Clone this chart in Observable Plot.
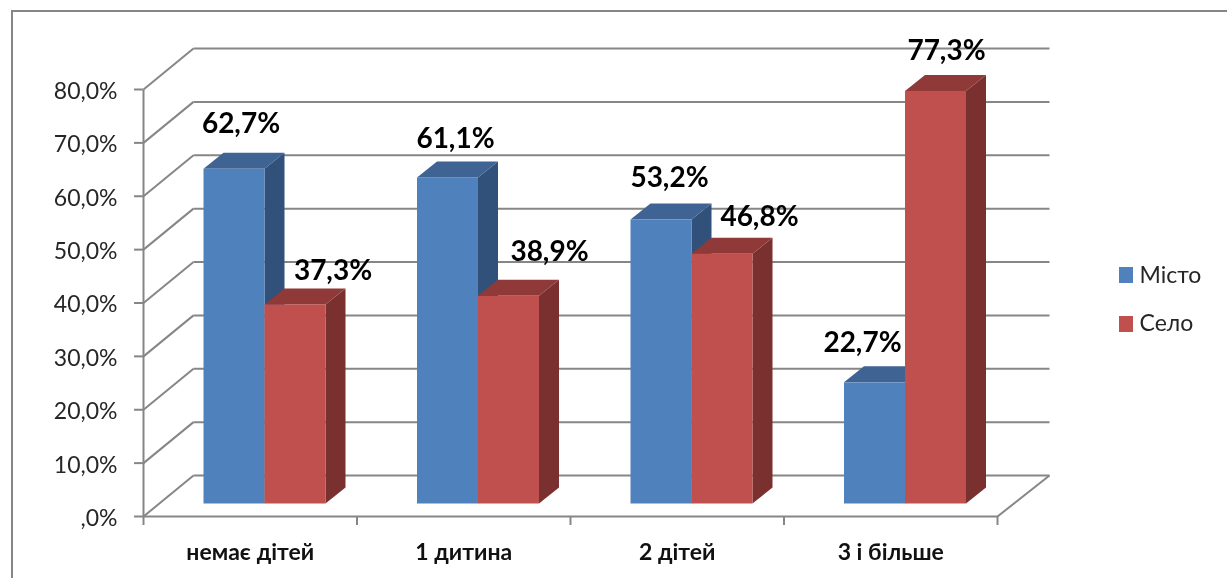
<!DOCTYPE html>
<html lang="uk">
<head>
<meta charset="utf-8">
<script src="https://cdn.jsdelivr.net/npm/d3@7"></script>
<script src="https://cdn.jsdelivr.net/npm/@observablehq/plot@0.6"></script>
<style>
  html,body{margin:0;padding:0;background:#fff;}
  #wrap{position:relative;width:1227px;height:578px;overflow:hidden;}
  #wrap svg{display:block;filter:blur(.45px);}
  #edge{position:absolute;left:11px;top:10px;width:1300px;height:700px;border:2px solid #868686;box-sizing:border-box;filter:blur(.4px);pointer-events:none;}
</style>
</head>
<body>
<div id="wrap"><div id="edge"></div></div>
<script>
// Data
const categories = ["немає дітей", "1 дитина", "2 дітей", "3 і більше"];
const seriesNames = ["Місто", "Село"];
const misto = [62.7, 61.1, 53.2, 22.7];
const selo = [37.3, 38.9, 46.8, 77.3];
const yTicks = [0, 10, 20, 30, 40, 50, 60, 70, 80];

// Colours
const frontColors = ["#4f81bd", "#c0504d"];
const sideColors = ["#31507a", "#7a302e"];
const topColors = ["#3f6392", "#8f3a38"];
const gridColor = "#868686";

// Layout, in pixels, converted to scale units below
const plotLeft = 143, plotRight = 997, plotTop = 89, plotBottom = 516;
const ux = 4 / (plotRight - plotLeft);
const uy = 80 / (plotBottom - plotTop);
const wallDx = 50 * ux, wallDy = 41 * uy, wallEnd = 4 + 52 * ux;
const barStart = 60.5 * ux, barW = 61 * ux, barBase = 12.5 * uy;
const barDx = 20 * ux, barDy = 16 * uy;
const labelNudgeX = [[6.5, 7.5, 8, -12.5], [37.5, 40.5, 37, 10.5]];
const labelNudgeY = [[45, 39, 42, 40], [34, 44, 37, 40]];

const fmt = v => v.toFixed(1).replace(".", ",") + "%";
const tickFmt = v => v === 0 ? ",0%" : fmt(v);

const bars = [misto, selo].map((vals, s) => vals.map((v, i) => {
  const x0 = i + barStart + s * barW;
  return {s, i, v, x0, x1: x0 + barW, y0: barBase, y1: barBase + v};
}));
const side = bars.map(list => list.flatMap(b => [
  {k: b.i, x: b.x1, y1: b.y0, y2: b.y1},
  {k: b.i, x: b.x1 + barDx, y1: b.y0 + barDy, y2: b.y1 + barDy}
]));
const topFace = bars.map(list => list.flatMap(b => [
  {k: b.i, x: b.x0, y1: b.y1, y2: b.y1},
  {k: b.i, x: b.x0 + barDx, y1: b.y1, y2: b.y1 + barDy},
  {k: b.i, x: b.x1, y1: b.y1, y2: b.y1 + barDy},
  {k: b.i, x: b.x1 + barDx, y1: b.y1 + barDy, y2: b.y1 + barDy}
]));

const barMarks = [0, 1].flatMap(s => [
  Plot.areaY(side[s], {x: "x", y1: "y1", y2: "y2", z: "k", fill: sideColors[s], curve: "linear"}),
  Plot.areaY(topFace[s], {x: "x", y1: "y1", y2: "y2", z: "k", fill: topColors[s], curve: "linear"}),
  Plot.rect(bars[s], {x1: "x0", x2: "x1", y1: "y0", y2: "y1", fill: () => seriesNames[s], inset: 0})
]);

const labels = bars.flat();
const fontFamily = "Lato, 'Open Sans', sans-serif";
const px = p => (p - plotLeft) * ux;
const py = p => (plotBottom - p) * uy;

const chart = Plot.plot({
  width: 1227,
  height: 578,
  marginLeft: plotLeft,
  marginRight: 1227 - plotRight,
  marginTop: plotTop,
  marginBottom: 578 - plotBottom,
  style: {background: "transparent", fontFamily, color: "#262626"},
  x: {domain: [0, 4]},
  y: {domain: [0, 80]},
  color: {domain: seriesNames, range: frontColors},
  marks: [
    // back wall and left side gridlines
    Plot.link(yTicks, {x1: wallDx, x2: wallEnd, y1: d => d + wallDy, y2: d => d + wallDy, stroke: gridColor, strokeWidth: 2}),
    Plot.link(yTicks, {x1: 0, x2: wallDx, y1: d => d, y2: d => d + wallDy, stroke: gridColor, strokeWidth: 2}),
    // floor
    Plot.link([0], {x1: 0, x2: 4, y1: 0, y2: 0, stroke: gridColor, strokeWidth: 2}),
    Plot.link([0], {x1: 4, x2: wallEnd, y1: 0, y2: wallDy, stroke: gridColor, strokeWidth: 2}),
    Plot.link([0], {x1: 0, x2: 0, y1: 0, y2: 80, stroke: gridColor, strokeWidth: 2}),
    // axes
    Plot.axisY({ticks: yTicks, tickFormat: () => "", tickSize: 9, label: null, stroke: gridColor, strokeWidth: 2}),
    Plot.text(yTicks, {x: 0, y: d => d, text: tickFmt, dx: -26, dy: 2, textAnchor: "end", fontSize: 23, fill: "#262626"}),
    Plot.axisX({ticks: [0, 1, 2, 3, 4], tickFormat: () => "", tickSize: 9, label: null, stroke: gridColor, strokeWidth: 2}),
    Plot.text(categories, {x: (d, i) => i + 0.5, y: 0, text: d => d, dy: 36, fontSize: 23, fontWeight: 700, fill: "#111"}),
    // bars
    ...barMarks,
    // data labels
    Plot.text(labels, {
      x: d => (d.x0 + d.x1) / 2 + labelNudgeX[d.s][d.i] * ux,
      y: d => d.y1 + labelNudgeY[d.s][d.i] * uy,
      text: d => fmt(d.v),
      fontSize: 28, fontWeight: 700, fill: "#000"
    }),
    // legend
    Plot.rect(seriesNames, {
      x1: px(1119), x2: px(1133),
      y1: (d, i) => py(267 + i * 49), y2: (d, i) => py(283 + i * 49),
      fill: d => d
    }),
    Plot.text(seriesNames, {
      x: px(1139), y: (d, i) => py(275 + i * 48),
      text: d => d, textAnchor: "start", fontSize: 23, fill: "#262626"
    })
  ]
});
document.getElementById("wrap").prepend(chart);
</script>
</body>
</html>
